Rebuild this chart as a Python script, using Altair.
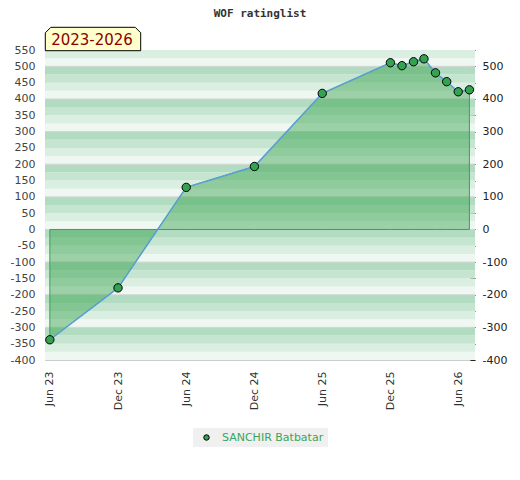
import altair as alt
import pandas as pd

# ---- data ----
months = ["2023-06-01", "2023-12-01", "2024-06-01", "2024-12-01", "2025-06-01",
          "2025-12-01", "2026-01-01", "2026-02-01", "2026-03-01", "2026-04-01",
          "2026-05-01", "2026-06-01", "2026-07-01"]
ratings = [-338, -179, 129, 193, 417, 511, 502, 514, 523, 480, 453, 422, 428]
player = "SANCHIR Batbatar"
tick_months = [(2023, 6), (2023, 12), (2024, 6), (2024, 12), (2025, 6), (2025, 12), (2026, 6)]
period_label = "2023-2026"
chart_title = "WOF ratinglist"

df = pd.DataFrame({"month": months, "rating": ratings, "player": [player] * len(months)})

# background stripes (25-unit bands, 100-unit cycle)
shades = {75: "#b2dcc2", 50: "#c5e5d1", 25: "#dbeee2", 0: "#eff7f2"}
stripe_rows = []
for lo in range(-400, 550, 25):
    stripe_rows.append({"lo": lo, "hi": lo + 25, "c": shades[lo % 100]})
stripes = pd.DataFrame(stripe_rows)
grid = pd.DataFrame({"v": list(range(-300, 551, 100))})

Y_DOMAIN = [-400, 550]
yscale = alt.Scale(domain=Y_DOMAIN, nice=False, zero=False)
xscale = alt.Scale(type="utc",
                   domain=[alt.DateTime(year=2023, month=5, date=19, utc=True),
                           alt.DateTime(year=2026, month=7, date=16, utc=True)])

x_axis = alt.Axis(
    values=[alt.DateTime(year=y, month=m, date=1, utc=True) for y, m in tick_months],
    labelExpr="utcFormat(datum.value, '%b %y')", labelAngle=-90, ticks=False,
    grid=False, labelPadding=11, domainColor="#cccccc", labelColor="#333333",
    labelFont="DejaVu Sans", labelFontSize=11, title=None)

left_axis = alt.Axis(values=list(range(-400, 551, 50)), orient="left", ticks=False,
                     grid=False, labelPadding=10, domainColor="#cccccc",
                     labelColor="#444444", labelFont="DejaVu Sans", labelFontSize=11,
                     title=None, labelExpr="'' + datum.value")
right_axis = alt.Axis(values=list(range(-400, 551, 50)), orient="right", grid=False,
                      domain=False, offset=-5, tickSize=5, tickColor="#222222",
                      labelPadding=7, labelColor="#222222", labelFont="DejaVu Sans",
                      labelFontSize=11, title=None,
                      labelExpr="datum.value % 100 == 0 ? '' + datum.value : ''")

bg = alt.Chart(stripes).mark_rect().encode(
    x=alt.value(0), x2=alt.value("width"),
    y=alt.Y("lo:Q", scale=yscale, axis=left_axis),
    y2="hi:Q",
    color=alt.Color("c:N", scale=None),
)

rules = alt.Chart(grid).mark_rule(color="#d4d4d4", strokeWidth=1).encode(
    x=alt.value(0), x2=alt.value("width"),
    y=alt.Y("v:Q", scale=yscale, axis=None),
)

base = alt.Chart(df)
xenc = alt.X("month:T", scale=xscale, axis=x_axis)

area = base.mark_area(fill="#289c3f", fillOpacity=0.42, stroke="#3f9f56",
                      strokeWidth=1).encode(
    x=xenc,
    y=alt.Y("rating:Q", scale=yscale, axis=None, stack=None),
    y2=alt.datum(0),
)

line = base.mark_line(color="#5b9fd6", strokeWidth=1.5).encode(
    x=xenc,
    y=alt.Y("rating:Q", scale=yscale, axis=None),
)

points = base.mark_point(filled=True, size=70, stroke="black", strokeWidth=1,
                         opacity=1).encode(
    x=xenc,
    y=alt.Y("rating:Q", scale=yscale, axis=right_axis),
    color=alt.Color("player:N", scale=alt.Scale(range=["#33a352"]),
                    legend=alt.Legend(orient="none", legendX=148, legendY=378,
                                      title=None, fillColor="#f0f0f0", padding=4,
                                      symbolOffset=4, labelOffset=10,
                                      labelColor="#3aa55a", labelFontSize=11,
                                      labelFont="DejaVu Sans", symbolType="circle",
                                      symbolStrokeColor="black", symbolStrokeWidth=1,
                                      symbolSize=30)),
)

box_shape = "M-1,0.2453L-1,-0.13L-0.8847,-0.2453L0.8847,-0.2453L1,-0.13L1,0.2453Z"
label_box = alt.Chart(pd.DataFrame({"t": [period_label]})).mark_point(
    shape=box_shape, size=9101, filled=True, fill="#ffffcc", fillOpacity=1,
    stroke="black", strokeWidth=1, opacity=1).encode(
    x=alt.value(48), y=alt.value(-11))
label_text = alt.Chart(pd.DataFrame({"t": [period_label]})).mark_text(
    font="DejaVu Sans", fontSize=15, color="#8b0000", align="center",
    baseline="middle").encode(x=alt.value(47), y=alt.value(-10), text="t:N")

chart = alt.layer(bg, rules, area, line, points, label_box, label_text).resolve_scale(
    y="shared").resolve_axis(y="independent").properties(
    width=430, height=310,
    title=alt.Title(chart_title, font="DejaVu Sans Mono", fontSize=11,
                    fontWeight="bold", color="#333333", offset=6),
    autosize=alt.AutoSizeParams(type="none"),
    padding={"left": 37, "top": 42, "right": 37, "bottom": 100},
).configure_view(stroke=None)

chart.save("out.html", embed_options={"renderer": "svg", "actions": False})
